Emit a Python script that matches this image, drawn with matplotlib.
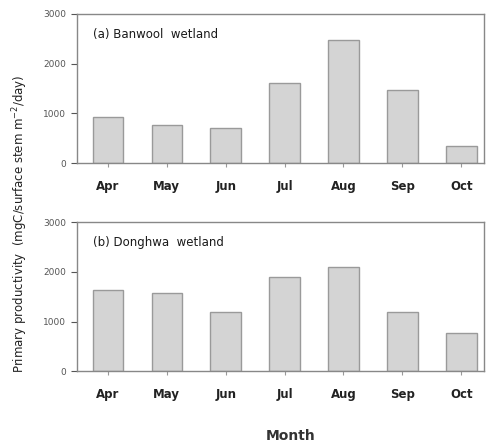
import matplotlib
matplotlib.use("Agg")
import matplotlib.pyplot as plt

months = ["Apr", "May", "Jun", "Jul", "Aug", "Sep", "Oct"]
banwool = [920, 765, 700, 1610, 2475, 1465, 335]
donghwa = [1635, 1570, 1190, 1890, 2105, 1200, 765]
panel_titles = ["(a) Banwool  wetland", "(b) Donghwa  wetland"]

fig = plt.figure(figsize=(4.89, 4.48), dpi=100)
ax1 = fig.add_axes([0.157, 0.636, 0.832, 0.333])
ax2 = fig.add_axes([0.157, 0.171, 0.832, 0.333])

for ax, vals, title in [(ax1, banwool, panel_titles[0]), (ax2, donghwa, panel_titles[1])]:
    x = range(len(months))
    ax.bar(x, vals, width=0.52, color="#d4d4d4", edgecolor="#9a9a9a", linewidth=1.0)
    ax.set_xlim(-0.53, 6.38)
    ax.set_ylim(0, 3000)
    ax.set_yticks([0, 1000, 2000, 3000])
    ax.set_xticks(list(x))
    ax.set_xticklabels(months, fontsize=8.5, fontweight="bold", color="#222222")
    ax.tick_params(axis="y", labelsize=6.5, colors="#555555", length=4, width=0.8, direction="out")
    ax.tick_params(axis="x", length=3, width=0.8, color="#999999", pad=9)
    for s in ax.spines.values():
        s.set_color("#888888")
        s.set_linewidth(1.0)
    ax.text(0.04, 0.84, title, transform=ax.transAxes, fontsize=8.5, color="#1a1a1a")

fig.text(0.595, 0.018, "Month", ha="center", fontsize=10, fontweight="bold", color="#333333")
fig.text(0.042, 0.50, "Primary productivity  (mgC/surface stem m$^{-2}$/day)", rotation=90,
         ha="center", va="center", fontsize=8.5, color="#222222")

fig.savefig("out.png", dpi=100)
